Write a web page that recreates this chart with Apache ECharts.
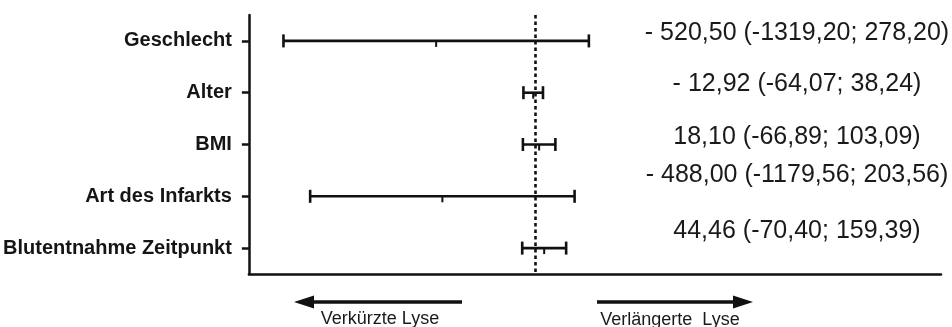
<!DOCTYPE html>
<html>
<head>
<meta charset="utf-8">
<script src="https://cdn.jsdelivr.net/npm/echarts@6/dist/echarts.min.js"></script>
<style>
  html, body { margin: 0; padding: 0; background: #fff; }
  #chart { width: 952px; height: 327px; }
</style>
</head>
<body>
<div id="chart"></div>
<script>
// Forest plot: effect estimate with 95% confidence interval per factor
const categories = ['Geschlecht', 'Alter', 'BMI', 'Art des Infarkts', 'Blutentnahme Zeitpunkt'];
const estimate = [-520.50, -12.92, 18.10, -488.00, 44.46];
const ciLower = [-1319.20, -64.07, -66.89, -1179.56, -70.40];
const ciUpper = [278.20, 38.24, 103.09, 203.56, 159.39];
const arrowLabels = ['Verkürzte Lyse', 'Verlängerte  Lyse'];

// vertical nudge of the value text for each row (px)
const noteShift = [-8, -9, -7, -21, -17];

const fmt = v => Math.abs(v).toFixed(2).replace('.', ',');
const fmtSigned = v => (v < 0 ? '-' : '') + fmt(v);
const noteText = i =>
  (estimate[i] < 0 ? '- ' : '') + fmt(estimate[i]) +
  ' (' + fmtSigned(ciLower[i]) + '; ' + fmtSigned(ciUpper[i]) + ')';

const rows = categories.map((c, i) => [i, estimate[i], ciLower[i], ciUpper[i]]);

const INK = '#111';
const chart = echarts.init(document.getElementById('chart'));

chart.setOption({
  animation: false,
  backgroundColor: '#fff',
  grid: { left: 247, right: 11, top: 15, bottom: 53, containLabel: false },
  xAxis: {
    type: 'value',
    min: -1500,
    max: 2120,
    axisLine: { show: true, onZero: false, lineStyle: { color: INK, width: 2.5 } },
    axisTick: { show: false },
    axisLabel: { show: false },
    splitLine: { show: false }
  },
  yAxis: {
    type: 'category',
    inverse: true,
    data: categories,
    axisLine: { show: true, onZero: false, lineStyle: { color: INK, width: 2.5 } },
    axisTick: { show: true, alignWithLabel: true, length: 7, lineStyle: { color: INK, width: 2.5 } },
    axisLabel: {
      margin: 17,
      color: '#151515',
      fontFamily: 'Liberation Sans, Arial, sans-serif',
      fontWeight: 'bold',
      fontSize: 20
    },
    splitLine: { show: false }
  },
  series: [
    {
      type: 'custom',
      data: rows,
      encode: { x: [1, 2, 3], y: 0 },
      clip: false,
      renderItem: function (params, api) {
        const idx = api.value(0);
        const mid = api.coord([api.value(1), idx]);
        const lo = api.coord([api.value(2), idx]);
        const hi = api.coord([api.value(3), idx]);
        const cap = 6.5;
        const st = { stroke: INK, lineWidth: 2.6 };
        const cs = params.coordSys;
        return {
          type: 'group',
          children: [
            { type: 'line', shape: { x1: lo[0], y1: lo[1], x2: hi[0], y2: hi[1] }, style: st },
            { type: 'line', shape: { x1: lo[0], y1: lo[1] - cap, x2: lo[0], y2: lo[1] + cap }, style: st },
            { type: 'line', shape: { x1: hi[0], y1: hi[1] - cap, x2: hi[0], y2: hi[1] + cap }, style: st },
            { type: 'line', shape: { x1: mid[0], y1: mid[1], x2: mid[0], y2: mid[1] + 6 }, style: { stroke: INK, lineWidth: 2 } },
            {
              type: 'text',
              x: cs.x + cs.width - 144,
              y: mid[1] + noteShift[params.dataIndex],
              style: {
                text: noteText(params.dataIndex),
                fill: '#1a1a1a',
                font: '25px "Liberation Sans", Arial, sans-serif',
                align: 'center',
                verticalAlign: 'middle'
              }
            }
          ]
        };
      },
      markLine: {
        silent: true,
        symbol: 'none',
        label: { show: false },
        lineStyle: { color: INK, width: 2.6, type: [3.5, 3] },
        data: [{ xAxis: 0 }]
      }
    }
  ],
  graphic: [
    // arrow pointing left
    { type: 'line', shape: { x1: 310, y1: 302, x2: 462, y2: 302 }, style: { stroke: INK, lineWidth: 3.5 } },
    { type: 'polygon', shape: { points: [[294, 302], [314, 295.5], [314, 308.5]] }, style: { fill: INK } },
    {
      type: 'text', x: 380, y: 319,
      style: { text: arrowLabels[0], fill: '#1a1a1a', font: '18px "Liberation Sans", Arial, sans-serif', align: 'center', verticalAlign: 'middle' }
    },
    // arrow pointing right
    { type: 'line', shape: { x1: 597, y1: 302, x2: 737, y2: 302 }, style: { stroke: INK, lineWidth: 3.5 } },
    { type: 'polygon', shape: { points: [[753, 302], [733, 295.5], [733, 308.5]] }, style: { fill: INK } },
    {
      type: 'text', x: 670, y: 320,
      style: { text: arrowLabels[1], fill: '#1a1a1a', font: '18px "Liberation Sans", Arial, sans-serif', align: 'center', verticalAlign: 'middle' }
    }
  ]
});
</script>
</body>
</html>
